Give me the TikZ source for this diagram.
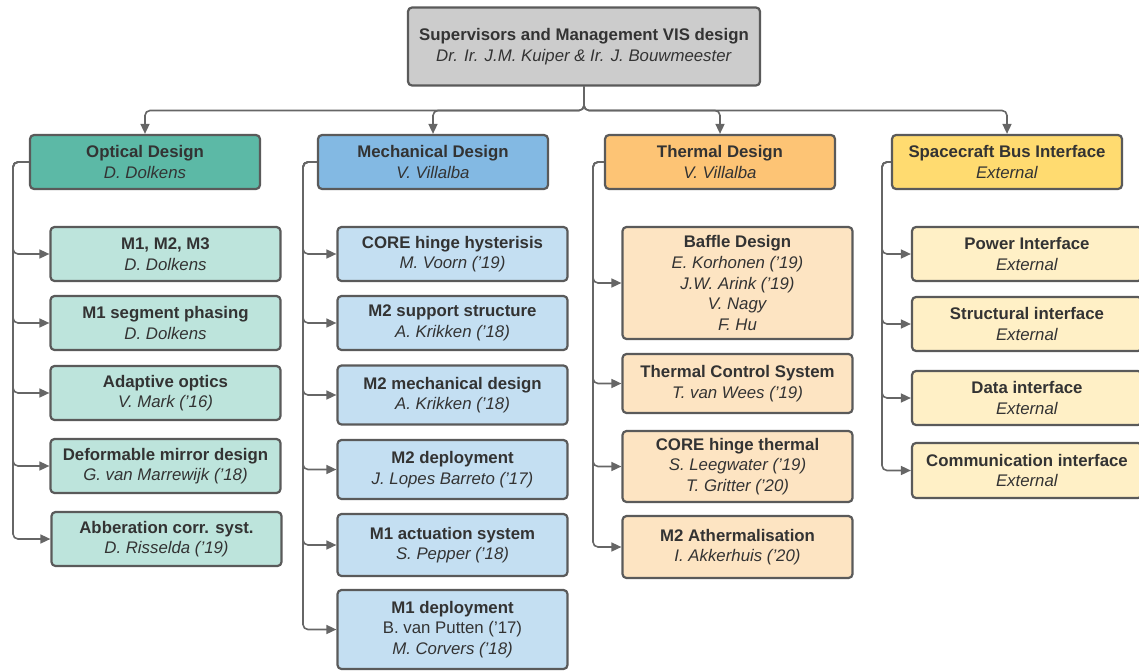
\documentclass[tikz,border=0pt]{standalone}
\usepackage{fontspec}
\setmainfont{Liberation Sans}
\usetikzlibrary{arrows.meta}
\definecolor{txt}{HTML}{333333}
\definecolor{bord}{HTML}{5A5A5A}
\definecolor{lnk}{HTML}{666666}
\definecolor{topfill}{HTML}{CCCCCC}
\definecolor{ohfill}{HTML}{5CB9A6}
\definecolor{ocfill}{HTML}{BDE4DC}
\definecolor{mhfill}{HTML}{83B9E3}
\definecolor{mcfill}{HTML}{C4DFF2}
\definecolor{thfill}{HTML}{FDC475}
\definecolor{tcfill}{HTML}{FDE4C2}
\definecolor{shfill}{HTML}{FFDB70}
\definecolor{scfill}{HTML}{FFF0C6}
\tikzset{
  box/.style={draw=bord, line width=2.2pt, rounded corners=4pt, text=txt,
    align=center, inner sep=0pt, minimum width=230pt, minimum height=54pt,
    font=\fontsize{16.8}{20.6}\selectfont},
  conn/.style={draw=lnk, line width=1.6pt, rounded corners=5pt,
    -{Triangle[length=10pt,width=9pt]}},
}
\newcommand{\ttlline}[1]{\textbf{#1}}
\newcommand{\subline}[1]{\textit{#1}}
\begin{document}
\begin{tikzpicture}[x=1pt,y=-1pt]
\useasboundingbox (0,0) rectangle (1139,671);
% top
\node[box, fill=topfill, minimum width=352pt, minimum height=78pt] (top) at (584,46.5)
  {\ttlline{Supervisors and Management VIS design}\\\subline{Dr. Ir. J.M. Kuiper \& Ir. J. Bouwmeester}};
% headers
\node[box, fill=ohfill] (oh) at (145,162) {\ttlline{Optical Design}\\\subline{D. Dolkens}};
\node[box, fill=mhfill] (mh) at (433,162) {\ttlline{Mechanical Design}\\\subline{V. Villalba}};
\node[box, fill=thfill] (th) at (720,162) {\ttlline{Thermal Design}\\\subline{V. Villalba}};
\node[box, fill=shfill] (sh) at (1007,162) {\ttlline{Spacecraft Bus Interface}\\\subline{External}};
% optical children
\begin{scope}[every node/.append style={fill=ocfill, minimum width=230pt}]
\node[box] (o1) at (165.5,254) {\ttlline{M1, M2, M3}\\\subline{D. Dolkens}};
\node[box] (o2) at (165.5,323) {\ttlline{M1 segment phasing}\\\subline{D. Dolkens}};
\node[box] (o3) at (165.5,393) {\ttlline{Adaptive optics}\\\subline{V. Mark ('16)}};
\node[box] (o4) at (165.5,466) {\ttlline{Deformable mirror design}\\\subline{G. van Marrewijk ('18)}};
\node[box] (o5) at (166.5,539) {\ttlline{Abberation corr. syst.}\\\subline{D. Risselda ('19)}};
\end{scope}
% mechanical children
\begin{scope}[every node/.append style={fill=mcfill, minimum width=228pt}]
\node[box] (m1) at (452.5,254) {\ttlline{CORE hinge hysterisis}\\\subline{M. Voorn ('19)}};
\node[box] (m2) at (452.5,323) {\ttlline{M2 support structure}\\\subline{A. Krikken ('18)}};
\node[box, minimum height=59pt] (m3) at (452.5,395) {\ttlline{M2 mechanical design}\\\subline{A. Krikken ('18)}};
\node[box, minimum height=59pt] (m4) at (452.5,469.5) {\ttlline{M2 deployment}\\\subline{J. Lopes Barreto ('17)}};
\node[box, minimum height=62pt] (m5) at (452.5,545) {\ttlline{M1 actuation system}\\\subline{S. Pepper ('18)}};
\node[box, minimum height=79pt] (m6) at (452.5,629.5) {\ttlline{M1 deployment}\\B. van Putten ('17)\\\subline{M. Corvers ('18)}};
\end{scope}
% thermal children
\begin{scope}[every node/.append style={fill=tcfill, minimum width=224pt}]
\node[box, minimum height=112pt] (t1) at (737.5,283) {\ttlline{Baffle Design}\\\subline{E. Korhonen ('19)}\\\subline{J.W. Arink ('19)}\\\subline{V. Nagy}\\\subline{F. Hu}};
\node[box, minimum height=59pt] (t2) at (737.5,383.5) {\ttlline{Thermal Control System}\\\subline{T. van Wees ('19)}};
\node[box, minimum height=71pt] (t3) at (737.5,466.5) {\ttlline{CORE hinge thermal}\\\subline{S. Leegwater ('19)}\\\subline{T. Gritter ('20)}};
\node[box, minimum height=62pt] (t4) at (737.5,547) {\ttlline{M2 Athermalisation}\\\subline{I. Akkerhuis ('20)}};
\end{scope}
% spacecraft children
\begin{scope}[every node/.append style={fill=scfill, minimum width=230pt}]
\node[box] (s1) at (1027,254) {\ttlline{Power Interface}\\\subline{External}};
\node[box] (s2) at (1027,324) {\ttlline{Structural interface}\\\subline{External}};
\node[box] (s3) at (1027,398) {\ttlline{Data interface}\\\subline{External}};
\node[box, minimum height=55pt] (s4) at (1027,470.5) {\ttlline{Communication interface}\\\subline{External}};
\end{scope}
% top bus
\coordinate (tbus) at (584,110.5);
\foreach \h in {oh,mh,th,sh}{
  \draw[conn] (top.south) -- (tbus) -| (\h.north);
}
% side buses
\coordinate (obus) at (13,162);
\coordinate (mbus) at (303,162);
\coordinate (thbus) at (593,162);
\coordinate (sbus) at (882,162);
\foreach \c in {o1,o2,o3,o4,o5}{\draw[conn] (oh.west) -- (obus) |- (\c.west);}
\foreach \c in {m1,m2,m3,m4,m5,m6}{\draw[conn] (mh.west) -- (mbus) |- (\c.west);}
\foreach \c in {t1,t2,t3,t4}{\draw[conn] (th.west) -- (thbus) |- (\c.west);}
\foreach \c in {s1,s2,s3,s4}{\draw[conn] (sh.west) -- (sbus) |- (\c.west);}
\end{tikzpicture}
\end{document}
